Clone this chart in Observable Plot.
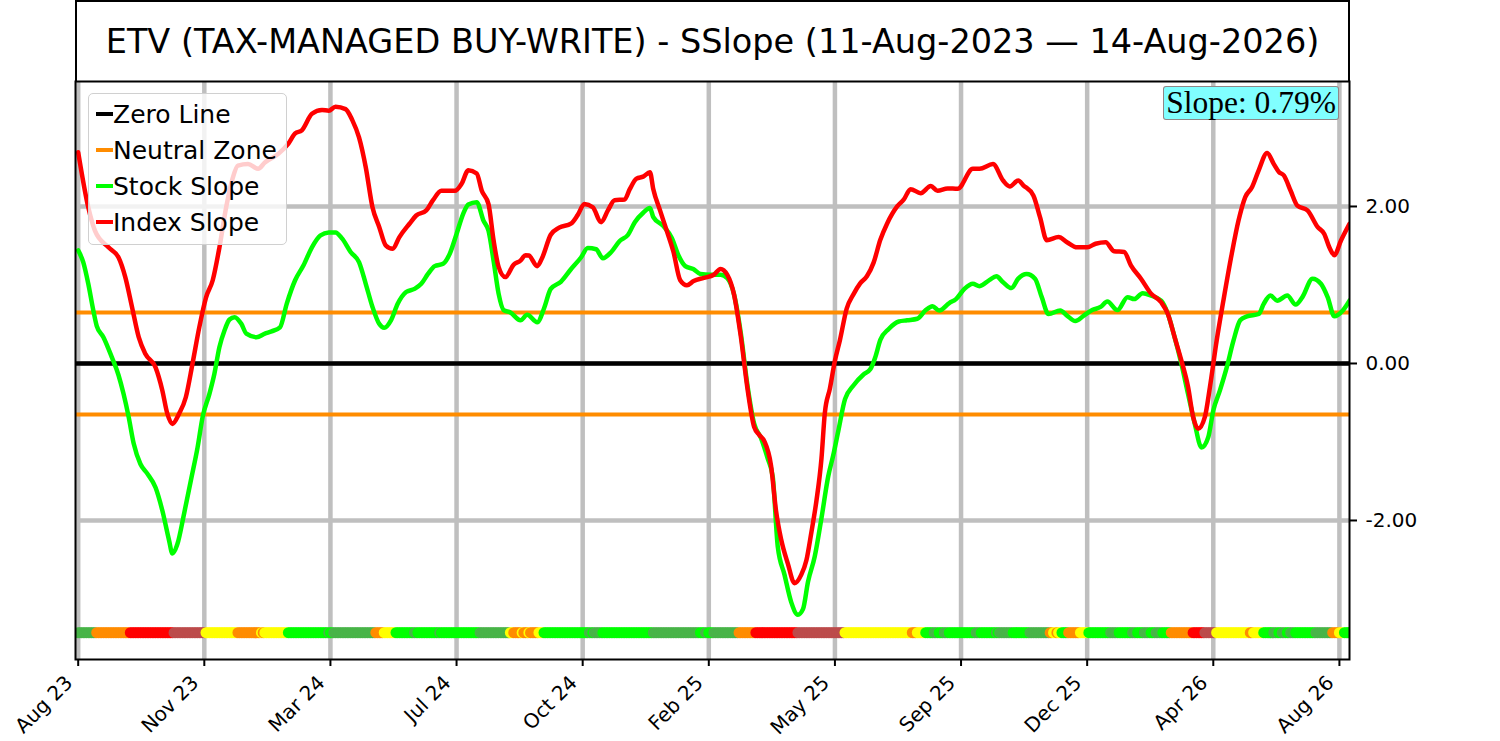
<!DOCTYPE html>
<html><head><meta charset="utf-8">
<script src="https://cdn.jsdelivr.net/npm/d3@7"></script>
<script src="https://cdn.jsdelivr.net/npm/@observablehq/plot@0.6"></script>
<style>
body{margin:0;background:#fff;font-family:"DejaVu Sans",sans-serif;color:#000;}
#wrap{position:relative;width:1500px;height:741px;overflow:hidden;background:#fff;}
#title{position:absolute;left:75px;top:0;width:1275px;height:81px;box-sizing:border-box;border:2px solid #000;border-bottom:none;display:flex;align-items:center;justify-content:center;font-size:33.5px;white-space:nowrap;}
#chart{position:absolute;left:0;top:80px;}
#legend{position:absolute;left:88px;top:93px;width:199px;height:152px;box-sizing:border-box;background:rgba(255,255,255,0.8);border:1.5px solid #d0d0d0;border-radius:5px;}
.row{position:absolute;left:7px;height:36px;display:flex;align-items:center;font-size:25px;white-space:nowrap;}
.sw{width:17px;height:4.5px;flex:none;}
#slope{position:absolute;left:1163px;top:86px;width:176px;height:34px;box-sizing:border-box;background:#80ffff;border:1.5px solid rgba(150,70,70,0.65);border-radius:3px;font-family:"Liberation Serif",serif;font-size:31.5px;line-height:1;display:flex;align-items:center;justify-content:center;white-space:nowrap;}
</style></head>
<body>
<div id="wrap">
  <div id="title"></div>
  <div id="chart"></div>
  <div id="legend"></div>
  <div id="slope"></div>
</div>
<script>
const titleText = "ETV (TAX-MANAGED BUY-WRITE) - SSlope (11-Aug-2023 \u2014 14-Aug-2026)";
const slopeText = "Slope: 0.79%";

const tickDays = [0,75,150,225,300,375,450,525,600,675,750];
const tickLabels = ["Aug 23","Nov 23","Mar 24","Jul 24","Oct 24","Feb 25","May 25","Sep 25","Dec 25","Apr 26","Aug 26"];
const yTicks = [-2,0,2];
const zeroLevel = [0];
const neutralLevels = [0.65,-0.65];
const bandLevel = -3.43;
const lastDay = 756;

const stockDay = [0,3,6,9,11,15,20,24,27,30,33,37,41,46,50,54,56,59,63,67,71,74,78,81,84,87,90,93,97,100,106,111,115,120,124,129,134,139,144,149,153,157,162,167,171,175,179,182,186,190,195,200,204,208,212,217,221,225,229,232,237,241,244,247,250,253,257,263,267,273,277,281,287,293,299,303,308,312,317,322,327,331,336,340,342,348,353,357,361,366,370,376,382,386,390,394,398,402,406,410,413,416,420,424,428,431,434,438,442,446,449,452,456,461,467,471,474,477,482,488,493,499,504,508,512,518,522,527,532,536,542,546,550,555,559,564,569,573,577,584,588,593,598,603,608,612,618,624,628,633,638,644,648,652,656,660,664,668,672,675,679,683,687,691,695,702,705,709,713,719,724,728,734,739,743,747,752,756];
const stockSlope = [1.44,1.29,1.015,0.675,0.48,0.335,0.08,-0.15,-0.39,-0.68,-1.02,-1.28,-1.40,-1.58,-1.87,-2.25,-2.42,-2.30,-1.91,-1.49,-1.07,-0.68,-0.39,-0.13,0.21,0.42,0.56,0.59,0.505,0.38,0.335,0.38,0.41,0.46,0.76,1.06,1.25,1.48,1.63,1.67,1.67,1.59,1.42,1.29,1.015,0.72,0.505,0.455,0.55,0.76,0.91,0.95,1.015,1.14,1.24,1.27,1.40,1.65,1.91,2.025,2.055,1.82,1.69,1.31,0.89,0.68,0.65,0.55,0.62,0.525,0.70,0.95,1.04,1.20,1.35,1.47,1.455,1.34,1.42,1.56,1.64,1.80,1.92,1.98,1.865,1.75,1.60,1.375,1.24,1.20,1.14,1.13,1.13,1.085,0.88,0.39,-0.28,-0.77,-0.95,-1.21,-1.44,-2.33,-2.69,-3.04,-3.20,-3.13,-2.78,-2.46,-1.97,-1.44,-1.17,-0.86,-0.455,-0.28,-0.14,-0.075,0.08,0.30,0.44,0.535,0.55,0.57,0.68,0.73,0.675,0.77,0.82,0.95,1.015,0.985,1.065,1.11,1.035,0.96,1.08,1.14,1.08,0.845,0.63,0.675,0.61,0.54,0.61,0.68,0.72,0.79,0.68,0.845,0.82,0.895,0.865,0.80,0.63,0.335,0.0,-0.39,-0.77,-1.07,-0.94,-0.60,-0.34,-0.05,0.29,0.55,0.60,0.63,0.76,0.865,0.80,0.865,0.75,0.845,1.08,1.015,0.845,0.60,0.675,0.80];

const indexDay = [0,6,10,18,24,28,32,36,40,46,50,53,56,60,64,68,72,76,80,84,88,92,95,101,107,111,119,125,129,133,139,145,149,153,159,163,167,171,175,179,183,187,191,197,201,207,211,216,224,228,232,237,240,244,247,250,254,259,263,266,268,273,276,281,286,293,297,301,306,311,315,319,325,328,332,336,340,342,346,350,354,358,362,366,372,378,382,386,390,394,398,402,405,408,412,415,418,422,426,430,433,436,439,442,444,447,450,453,457,461,465,469,473,477,481,487,491,495,501,507,511,517,523,532,536,544,550,554,559,562,568,572,576,583,588,594,600,605,611,616,622,626,632,638,644,648,652,656,660,663,666,670,673,677,681,686,690,694,698,702,707,711,714,717,721,725,731,737,741,744,747,751,756];
const indexSlope = [2.69,1.99,1.69,1.48,1.35,1.10,0.72,0.335,0.12,-0.05,-0.34,-0.64,-0.77,-0.64,-0.43,0.0,0.46,0.84,1.06,1.48,1.99,2.37,2.52,2.54,2.48,2.56,2.67,2.80,2.93,2.97,3.18,3.23,3.22,3.27,3.24,3.10,2.88,2.50,1.99,1.74,1.50,1.46,1.61,1.78,1.885,1.95,2.08,2.20,2.20,2.29,2.46,2.42,2.20,2.03,1.57,1.23,1.10,1.26,1.31,1.38,1.375,1.24,1.35,1.64,1.73,1.78,1.89,2.03,1.99,1.80,1.95,2.08,2.09,2.22,2.355,2.38,2.435,2.22,1.95,1.69,1.42,1.06,0.995,1.05,1.09,1.13,1.205,1.13,0.88,0.35,-0.32,-0.81,-0.91,-0.99,-1.30,-1.88,-2.24,-2.55,-2.80,-2.69,-2.51,-2.15,-1.75,-1.21,-0.63,-0.32,0.035,0.30,0.70,0.88,1.02,1.11,1.285,1.575,1.78,2.00,2.09,2.22,2.17,2.26,2.20,2.23,2.225,2.48,2.48,2.54,2.33,2.255,2.33,2.27,2.14,1.86,1.57,1.61,1.545,1.48,1.48,1.525,1.545,1.43,1.42,1.25,1.08,0.89,0.78,0.63,0.335,0.04,-0.30,-0.68,-0.83,-0.68,-0.30,0.29,0.80,1.40,1.82,2.12,2.245,2.46,2.68,2.54,2.44,2.395,2.20,2.01,1.95,1.74,1.65,1.48,1.38,1.57,1.78];

// signal band: run starts (trading day) and state of each run
const bandStart = [0,11,31,57,76,95,109,110,111,125,149,150,152,177,182,189,200,202,215,216,239,257,259,264,265,268,269,274,277,304,306,307,312,342,370,373,375,378,393,403,428,456,496,499,504,509,512,515,518,534,537,546,547,548,556,566,578,580,582,583,585,589,596,601,614,619,627,630,634,638,641,645,650,663,670,677,697,699,705,711,714,716,719,721,724,736,746,750,753];
const bandState = ["G","O","R","B","Y","O","Y","O","Y","L","G","L","G","O","Y","L","G","L","G","L","G","Y","O","Y","O","Y","O","Y","L","G","L","G","L","G","L","G","L","G","O","R","B","Y","O","Y","L","G","L","G","L","G","L","G","L","G","L","G","O","Y","O","Y","L","O","Y","L","G","L","G","L","G","L","G","L","O","R","B","Y","O","Y","L","G","L","G","L","G","L","G","O","Y","L"];
const bandColors = {G:"#48b448",O:"#ff8c00",R:"#ff0000",B:"#bc4b4b",Y:"#ffff00",L:"#00ff00"};

const legendItems = [
  {label:"Zero Line", color:"#000000"},
  {label:"Neutral Zone", color:"#ff8c00"},
  {label:"Stock Slope", color:"#00ff00"},
  {label:"Index Slope", color:"#ff0000"}
];

const stock = stockDay.map((d,i)=>({day:d, v:stockSlope[i]}));
const index = indexDay.map((d,i)=>({day:d, v:indexSlope[i]}));
const band = [];
let k = 0;
for (let d = 0; d <= lastDay; d++) {
  while (k + 1 < bandStart.length && bandStart[k+1] <= d) k++;
  band.push({day:d, y:bandLevel, c:bandColors[bandState[k]]});
}

document.getElementById("title").textContent = titleText;
document.getElementById("slope").textContent = slopeText;
const leg = document.getElementById("legend");
legendItems.forEach((it,i)=>{
  const r = document.createElement("div");
  r.className = "row";
  r.style.top = (2 + i*36) + "px";
  const s = document.createElement("span");
  s.className = "sw"; s.style.background = it.color;
  const t = document.createElement("span");
  t.textContent = it.label;
  r.appendChild(s); r.appendChild(t);
  leg.appendChild(r);
});

const chart = Plot.plot({
  width:1500, height:661,
  marginTop:1, marginBottom:82, marginLeft:75, marginRight:151,
  x:{domain:[-1.6,756]},
  y:{domain:[-3.771,3.592]},
  color:{type:"identity"},
  style:{fontFamily:"DejaVu Sans", fontSize:"20px", background:"transparent", color:"#000", overflow:"visible"},
  marks:[
    Plot.gridX(tickDays,{stroke:"#bfbfbf", strokeOpacity:1, strokeWidth:4.5}),
    Plot.gridY(yTicks,{stroke:"#bfbfbf", strokeOpacity:1, strokeWidth:4.5}),
    Plot.ruleY(zeroLevel,{stroke:"#000", strokeWidth:4.5}),
    Plot.ruleY(neutralLevels,{stroke:"#ff8c00", strokeWidth:4}),
    Plot.line(stock,{x:"day", y:"v", stroke:"#00ff00", strokeWidth:4.5, curve:"monotone-x", clip:true}),
    Plot.line(index,{x:"day", y:"v", stroke:"#ff0000", strokeWidth:4.5, curve:"monotone-x", clip:true}),
    Plot.dot(band,{x:"day", y:"y", r:5.5, fill:"c", stroke:null, clip:true}),
    Plot.frame({stroke:"#000", strokeWidth:2}),
    Plot.axisY(yTicks,{anchor:"right", tickFormat:d=>d.toFixed(2), tickSize:7, tickPadding:9, fontSize:20, strokeWidth:2, label:null}),
    Plot.axisX(tickDays,{anchor:"bottom", tickFormat:null, text:null, tickSize:7, strokeWidth:2, label:null}),
    Plot.axisX(tickDays,{anchor:"bottom", tickFormat:d=>tickLabels[tickDays.indexOf(d)], tickRotate:-45, tickSize:0, tickPadding:20, dx:-9, fontSize:20, label:null})
  ]
});
document.getElementById("chart").appendChild(chart);
</script>
</body></html>
